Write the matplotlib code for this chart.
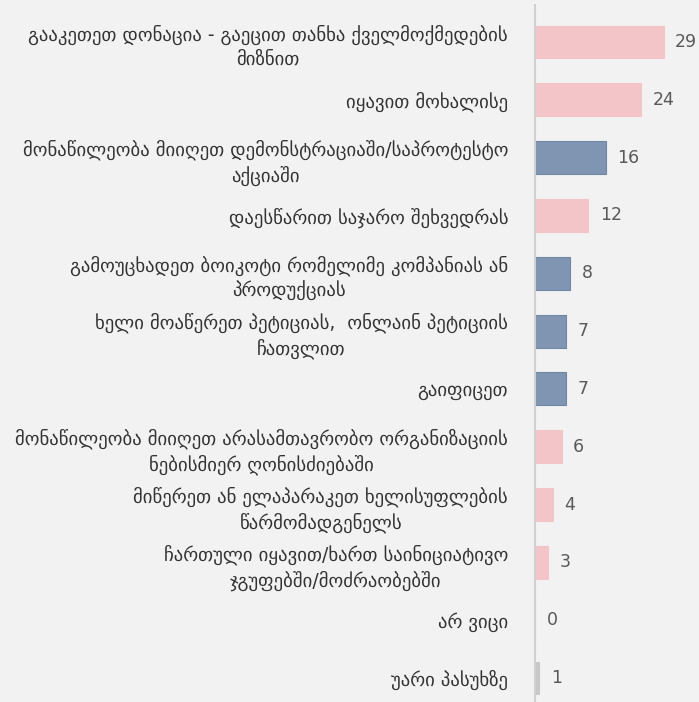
import matplotlib
matplotlib.use("Agg")
import matplotlib.pyplot as plt

categories = [
    "გააკეთეთ დონაცია - გაეცით თანხა ქველმოქმედების\nმიზნით",
    "იყავით მოხალისე",
    "მონაწილეობა მიიღეთ დემონსტრაციაში/საპროტესტო\nაქციაში",
    "დაესწარით საჯარო შეხვედრას",
    "გამოუცხადეთ ბოიკოტი რომელიმე კომპანიას ან\nპროდუქციას",
    "ხელი მოაწერეთ პეტიციას,  ონლაინ პეტიციის\nჩათვლით",
    "გაიფიცეთ",
    "მონაწილეობა მიიღეთ არასამთავრობო ორგანიზაციის\nნებისმიერ ღონისძიებაში",
    "მიწერეთ ან ელაპარაკეთ ხელისუფლების\nწარმომადგენელს",
    "ჩართული იყავით/ხართ საინიციატივო\nჯგუფებში/მოძრაობებში",
    "არ ვიცი",
    "უარი პასუხზე",
]
values = [29, 24, 16, 12, 8, 7, 7, 6, 4, 3, 0, 1]
groups = ["pink", "pink", "blue", "pink", "blue", "blue", "blue",
          "pink", "pink", "pink", "grey", "grey"]

face = {"pink": "#f4c5c8", "blue": "#7f95b1", "grey": "#c8c8c8"}
edge = {"pink": "#f4c5c8", "blue": "#6f86a4", "grey": "#c8c8c8"}

W, H = 699, 702
fig = plt.figure(figsize=(W / 100, H / 100), dpi=100)
fig.patch.set_facecolor("#f2f2f2")
ax = fig.add_axes([535 / W, 0, 1 - 535 / W, (H - 5) / H])
ax.set_facecolor("#f2f2f2")

pos = list(range(len(values)))
ax.barh(pos, values, height=0.57,
        color=[face[g] for g in groups],
        edgecolor=[edge[g] for g in groups], linewidth=0.8)

ax.set_xlim(0, 37.0)
ax.set_ylim(11.415, -0.64)

for p, v in zip(pos, values):
    ax.text(v + 2.6, p, str(v), va="center", ha="left",
            fontsize=12.5, color="#595959")

ax.set_yticks(pos)
ax.set_yticklabels(categories, fontsize=13.5, color="#333333")
for lab in ax.get_yticklabels():
    lab.set_multialignment("center")
    lab.set_linespacing(1.35)
ax.tick_params(axis="y", length=0, pad=19.4)
ax.set_xticks([])

for s in ["top", "right", "bottom"]:
    ax.spines[s].set_visible(False)
ax.spines["left"].set_color("#d0d0d0")
ax.spines["left"].set_linewidth(1.5)

fig.savefig("out.png", dpi=100, facecolor=fig.get_facecolor())
